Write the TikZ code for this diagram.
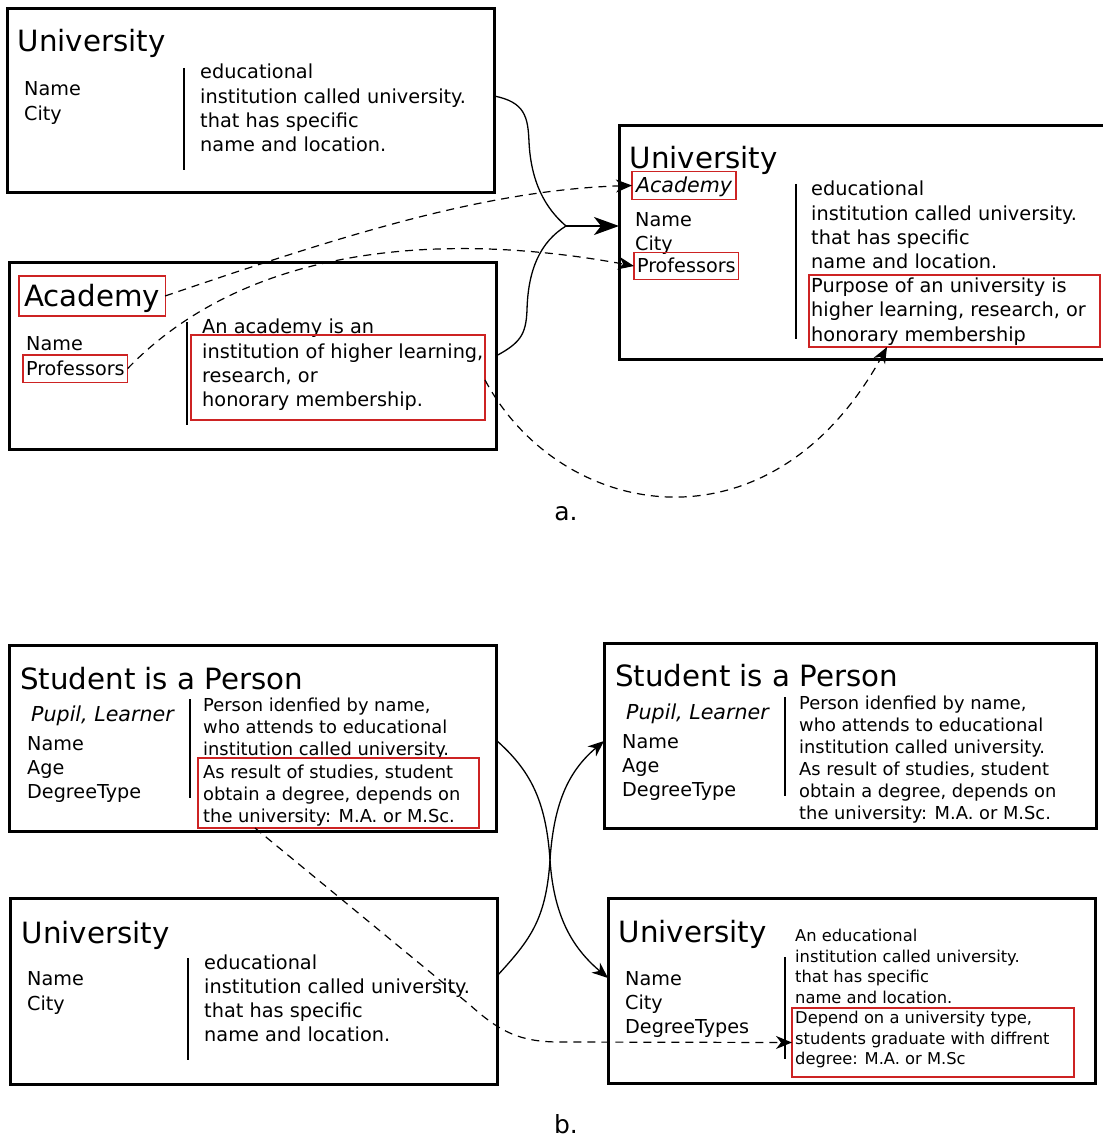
\documentclass[tikz,border=0pt]{standalone}
\usepackage{fontspec}
\setmainfont{DejaVu Sans}
\usetikzlibrary{arrows.meta,calc}
\definecolor{hl}{RGB}{205,35,35}
\newcommand{\fsz}[2]{\fontsize{#1}{#2}\selectfont}

\begin{document}
\begin{tikzpicture}[x=1pt,y=-1pt,
  frame/.style={draw, line width=3pt, anchor=north west, inner sep=0pt, outer sep=0pt},
  hlframe/.style={draw=hl, line width=1.2pt, anchor=north west, inner sep=0pt, outer sep=0pt},
  title/.style={anchor=base west, inner sep=0pt, font=\fsz{29.3}{35}},
  line/.style={anchor=base west, inner sep=0pt},
  body/.style={anchor=north west, inner sep=0pt, align=left, execute at begin node=\strut},
  tag/.style={draw=hl, line width=1.2pt, anchor=west, inner xsep=4pt, inner ysep=4pt, outer sep=0pt},
  tag19/.style={tag, font=\fsz{19.2}{24}, text height=16.4pt, text depth=2.8pt},
  divider/.style={line width=1.8pt},
  conn/.style={line width=1.3pt},
  tip/.style={-{Stealth[length=16pt,width=13pt,inset=5pt]}},
  dashconn/.style={line width=1.2pt, dash pattern=on 8pt off 6pt, tip},
  label/.style={font=\fsz{25}{30}, inner sep=0pt}
]
\useasboundingbox (0,0) rectangle (1102,1139);

% ---------- a. ----------
% University (left)
\node[frame, minimum width=487pt, minimum height=184pt] (u1) at (7,9) {};
\node[title] (u1t) at (17.5,52) {University};
\node[body, font=\fsz{19.2}{25}] (u1a) at (24,81) {Name\\City};
\node[body, font=\fsz{19.3}{24.3}] (u1d) at (200,64) {educational\\institution called university.\\that has specific\\name and location.};
\draw[divider] (184,68) -- (184,170);

% Academy
\node[frame, minimum width=487pt, minimum height=186pt] (ac) at (9,263) {};
\node[tag, font=\fsz{29.3}{35}, text height=25.3pt, text depth=4pt, inner xsep=5pt, inner ysep=5.3pt] (act) at (19,296) {Academy};
\node[line, font=\fsz{19.2}{24}] (acn) at (26,350.5) {Name};
\node[tag19, inner xsep=3pt] (acp) at (23,368.5) {Professors};
\node[body, font=\fsz{19.3}{24.3}] (acd) at (202,319) {An academy is an\\institution of higher learning,\\research, or\\honorary membership.};
\node[hlframe, minimum width=294pt, minimum height=85pt] (ach) at (191,335) {};
\draw[divider] (187,322) -- (187,425);

% University (merged)
\node[frame, minimum width=500pt, minimum height=233pt] (u2) at (619,126) {};
\node[title] (u2t) at (629.5,168.5) {University};
\node[tag, font=\fsz{20.6}{24}\itshape, text height=17.5pt, text depth=3pt] (u2ac) at (632,185.5) {Academy};
\node[body, font=\fsz{19.2}{24}] (u2a) at (635,212) {Name\\City};
\node[tag19, inner xsep=3pt] (u2p) at (634,266) {Professors};
\node[body, font=\fsz{19.3}{24.2}] (u2d) at (811,181) {educational\\institution called university.\\that has specific\\name and location.\\Purpose of an university is\\higher learning, research, or\\honorary membership};
\node[hlframe, minimum width=291pt, minimum height=72pt] (u2h) at (809,275) {};
\draw[divider] (796,184) -- (796,339);

% merge of the two concepts
\coordinate (jn) at (566,226);
\draw[conn] ($(u1.north east)+(0,87)$) .. controls (525,102) and (528,117) .. (529,142)
  .. controls (531,182) and (545,208) .. (jn);
\draw[conn] ($(ac.north east)+(0,93)$) .. controls (520,343) and (526,335) .. (527,310)
  .. controls (528,270) and (540,242) .. (jn);
\draw[line width=2pt, -{Stealth[length=25pt,width=18pt,inset=7pt]}] (jn) -- (u2.west |- jn);

% carried-over parts
\draw[dashconn] (act.east) .. controls (330,240) and (480,190) .. (u2ac.west);
\draw[dashconn] (acp.east) .. controls (250,242) and (450,232) .. (u2p.west);
\draw[dashconn] ($(ach.north east)+(0,45)$) .. controls (560,520) and (770,560) .. ($(u2h.south west)+(78,0)$);

\node[label] (la) at (566,514) {a.};

% ---------- b. ----------
% Student (left)
\node[frame, minimum width=487pt, minimum height=186pt] (s1) at (9,645) {};
\node[title] (s1t) at (20,689.5) {Student is a Person};
\node[line, font=\fsz{20.6}{24}\itshape] (s1p) at (31,721.5) {Pupil, Learner};
\node[body, font=\fsz{19.2}{24}] (s1a) at (27,736) {Name\\Age\\DegreeType};
\node[body, font=\fsz{17.85}{22.2}] (s1d) at (203,697.8) {Person idenfied by name,\\who attends to educational\\institution called university.\\As result of studies, student\\obtain a degree, depends on\\the university: M.A. or M.Sc.};
\node[hlframe, minimum width=281pt, minimum height=70pt] (s1h) at (198,758) {};
\draw[divider] (190,699) -- (190,798);

% University (left)
\node[frame, minimum width=487pt, minimum height=186pt] (u3) at (10,898) {};
\node[title] (u3t) at (21.5,943.5) {University};
\node[body, font=\fsz{19.2}{24.5}] (u3a) at (27,971.7) {Name\\City};
\node[body, font=\fsz{19.3}{24}] (u3d) at (204,955) {educational\\institution called university.\\that has specific\\name and location.};
\draw[divider] (188,958) -- (188,1060);

% Student (right)
\node[frame, minimum width=492pt, minimum height=185pt] (s2) at (604,643) {};
\node[title] (s2t) at (615,686.5) {Student is a Person};
\node[line, font=\fsz{20.6}{24}\itshape] (s2p) at (626,719.5) {Pupil, Learner};
\node[body, font=\fsz{19.2}{24}] (s2a) at (622,734) {Name\\Age\\DegreeType};
\node[body, font=\fsz{17.85}{22}] (s2d) at (799,695.9) {Person idenfied by name,\\who attends to educational\\institution called university.\\As result of studies, student\\obtain a degree, depends on\\the university: M.A. or M.Sc.};
\draw[divider] (785,697) -- (785,796);

% University (right)
\node[frame, minimum width=487pt, minimum height=185pt] (u4) at (608,898) {};
\node[title] (u4t) at (618.5,942.5) {University};
\node[body, font=\fsz{19.2}{24}] (u4a) at (625,971) {Name\\City\\DegreeTypes};
\node[body, font=\fsz{16.3}{20.5}] (u4d) at (795,929.4) {An educational\\institution called university.\\that has specific\\name and location.\\Depend on a university type,\\students graduate with diffrent\\degree: M.A. or M.Sc};
\node[hlframe, minimum width=282pt, minimum height=69pt] (u4h) at (792,1008) {};
\draw[divider] (785,957) -- (785,1059);

% crossing links
\draw[conn, tip] ($(s1.north east)+(0,95)$) .. controls (530,770) and (546,800) .. (550,860)
  .. controls (554,920) and (575,950) .. ($(u4.north west)+(0,80)$);
\draw[conn, tip] ($(u3.north east)+(0,78)$) .. controls (530,940) and (546,920) .. (550,860)
  .. controls (554,800) and (570,770) .. ($(s2.north west)+(0,98)$);

% degree statement carried into the university
\draw[dashconn] ($(s1h.south west)+(57,0)$) -- (470,1005) .. controls (500,1032) and (520,1042) .. (560,1042) -- (u4h.west);

\node[label] (lb) at (566,1124) {b.};
\end{tikzpicture}
\end{document}
